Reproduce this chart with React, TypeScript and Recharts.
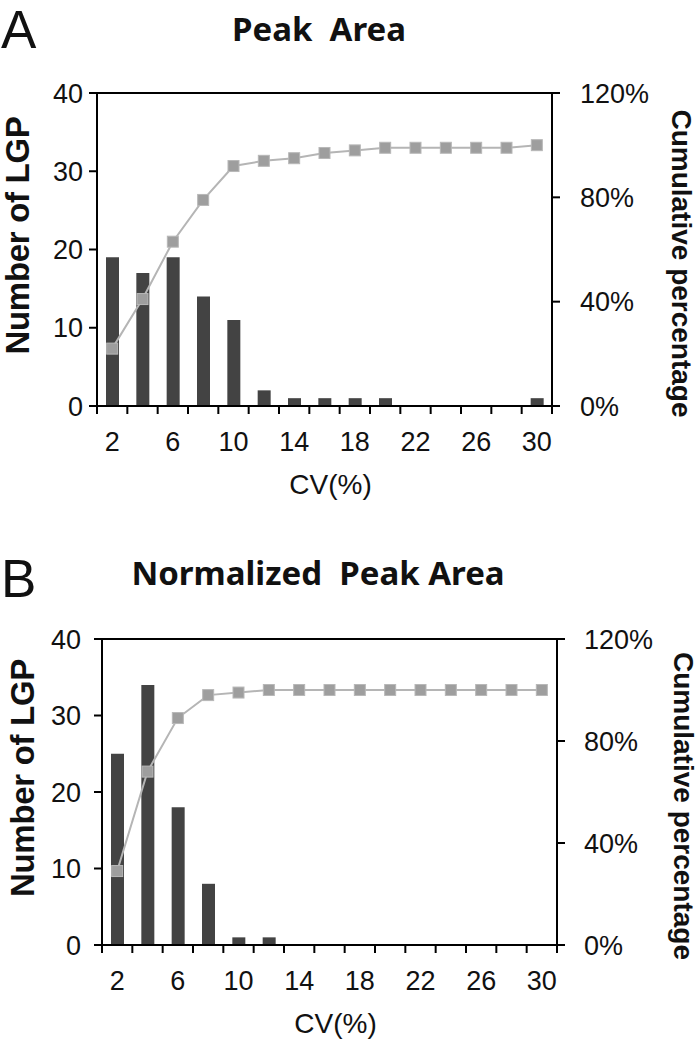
import { Bar, ComposedChart, Line, ReferenceLine, XAxis, YAxis } from "recharts";

// CV bins (%) and tick positions
const CV = [2, 4, 6, 8, 10, 12, 14, 16, 18, 20, 22, 24, 26, 28, 30];
const CV_EDGES = [1, 3, 5, 7, 9, 11, 13, 15, 17, 19, 21, 23, 25, 27, 29, 31];
const CV_LABELS = [2, 6, 10, 14, 18, 22, 26, 30];
const CV_TICKS = [...CV_EDGES, ...CV_LABELS].sort((a, b) => a - b);

const COUNT_TICKS = [0, 10, 20, 30, 40];
const PCT_TICKS = [0, 40, 80, 120];

// A: Peak Area
const PEAK_COUNT = [19, 17, 19, 14, 11, 2, 1, 1, 1, 1, 0, 0, 0, 0, 1];
const PEAK_CUM = [22, 41, 63, 79, 92, 94, 95, 97, 98, 99, 99, 99, 99, 99, 100];

// B: Normalized Peak Area
const NORM_COUNT = [25, 34, 18, 8, 1, 1, 0, 0, 0, 0, 0, 0, 0, 0, 0];
const NORM_CUM = [29, 68, 89, 98, 99, 100, 100, 100, 100, 100, 100, 100, 100, 100, 100];

const ARIAL = "'Liberation Sans', Arial, sans-serif";
const TICK_FONT = { fontSize: 27, fill: "#111", fontFamily: ARIAL };
const AXIS = { stroke: "#000", strokeWidth: 2 };

function CvTick({ x, y, payload }: any) {
  const v = payload.value;
  return (
    <g>
      {CV_EDGES.includes(v) && (
        <line x1={x} x2={x} y1={y - 8} y2={y} stroke="#000" strokeWidth={2} />
      )}
      {CV_LABELS.includes(v) && (
        <text x={x} y={y + 37} textAnchor="middle" {...TICK_FONT}>
          {v}
        </text>
      )}
    </g>
  );
}

function SquareDot({ cx, cy }: any) {
  if (cx == null || cy == null) return null;
  return (
    <rect x={cx - 5.5} y={cy - 5.5} width={11} height={11} fill="#9e9e9e" stroke="#b8b8b8" strokeWidth={1} />
  );
}

function Panel({ top, margin, leftGap, rightGap, rightLabelX, counts, cum }: {
  top: number;
  margin: { top: number; right: number; bottom: number; left: number };
  leftGap: number;
  rightGap: number;
  rightLabelX: number;
  counts: number[];
  cum: number[];
}) {
  const data = CV.map((cv, i) => ({ cv, count: counts[i], cum: cum[i] }));
  return (
    <div style={{ position: "absolute", left: 0, top }}>
      <ComposedChart width={700} height={520} data={data} margin={margin}>
        <XAxis
          dataKey="cv"
          type="number"
          domain={[1, 31]}
          ticks={CV_TICKS}
          interval={0}
          tickLine={false}
          tickSize={8}
          tickMargin={0}
          tick={<CvTick />}
          height={60}
          axisLine={AXIS}
          label={{
            content: ({ viewBox }: any) => (
              <text
                x={viewBox.x + viewBox.width / 2 + 6}
                y={viewBox.y + 88}
                textAnchor="middle"
                fontSize={28}
                fontFamily={ARIAL}
                fill="#111"
              >
                CV(%)
              </text>
            ),
          }}
        />
        <YAxis
          yAxisId="left"
          domain={[0, 40]}
          ticks={COUNT_TICKS}
          interval={0}
          width={60}
          axisLine={AXIS}
          tickLine={AXIS}
          tickSize={8}
          tickMargin={leftGap}
          tick={TICK_FONT}
          label={{
            content: ({ viewBox }: any) => {
              const x = viewBox.x - 8;
              const y = viewBox.y + viewBox.height / 2 - 14;
              return (
                <text
                  x={x}
                  y={y}
                  transform={`rotate(-90 ${x} ${y})`}
                  textAnchor="middle"
                  fontSize={33}
                  fontWeight="bold"
                  letterSpacing={-0.3}
                  fontFamily={ARIAL}
                  fill="#111"
                >
                  Number of LGP
                </text>
              );
            },
          }}
        />
        <YAxis
          yAxisId="right"
          orientation="right"
          domain={[0, 120]}
          ticks={PCT_TICKS}
          interval={0}
          width={80}
          axisLine={AXIS}
          tickLine={AXIS}
          tickSize={8}
          tickMargin={rightGap}
          tick={TICK_FONT}
          tickFormatter={(v) => `${v}%`}
          label={{
            content: ({ viewBox }: any) => {
              const x = viewBox.x + rightLabelX;
              const y = viewBox.y + viewBox.height / 2 + 14;
              return (
                <text
                  x={x}
                  y={y}
                  transform={`rotate(90 ${x} ${y})`}
                  textAnchor="middle"
                  fontSize={28}
                  fontWeight="bold"
                  fontFamily={ARIAL}
                  fill="#111"
                >
                  Cumulative percentage
                </text>
              );
            },
          }}
        />
        <ReferenceLine yAxisId="left" y={40} stroke="#000" strokeWidth={2} />
        <Bar yAxisId="left" dataKey="count" fill="#434343" barSize={13} isAnimationActive={false} />
        <Line
          yAxisId="right"
          dataKey="cum"
          stroke="#b5b5b5"
          strokeWidth={2}
          dot={(p: any) => <SquareDot key={p.index} {...p} />}
          activeDot={false}
          isAnimationActive={false}
        />
      </ComposedChart>
    </div>
  );
}

export default function App() {
  return (
    <div style={{ position: "absolute", left: 0, top: 0, width: 700, height: 1040, background: "#fff" }}>
      <Panel
        top={0}
        margin={{ top: 93, right: 68, bottom: 54, left: 37 }}
        leftGap={6}
        rightGap={20}
        rightLabelX={120}
        counts={PEAK_COUNT}
        cum={PEAK_CUM}
      />
      <Panel
        top={520}
        margin={{ top: 119, right: 63, bottom: 35, left: 42 }}
        leftGap={13}
        rightGap={19}
        rightLabelX={117}
        counts={NORM_COUNT}
        cum={NORM_CUM}
      />
      <svg width={700} height={1040} style={{ position: "absolute", left: 0, top: 0, pointerEvents: "none" }}>
        <text x={1} y={48} fontSize={53} fontFamily={ARIAL} fill="#111">
          A
        </text>
        <text
          x={319}
          y={41}
          textAnchor="middle"
          fontSize={33}
          fontWeight="bold"
          fontFamily="'Noto Sans', sans-serif"
          fill="#111"
          style={{ whiteSpace: "pre" }}
        >
          {"Peak  Area"}
        </text>
        <text x={1} y={597} fontSize={53} fontFamily={ARIAL} fill="#111">
          B
        </text>
        <text
          x={318}
          y={585}
          textAnchor="middle"
          fontSize={33}
          fontWeight="bold"
          fontFamily="'Noto Sans', sans-serif"
          fill="#111"
          style={{ whiteSpace: "pre" }}
        >
          {"Normalized  Peak Area"}
        </text>
      </svg>
    </div>
  );
}
